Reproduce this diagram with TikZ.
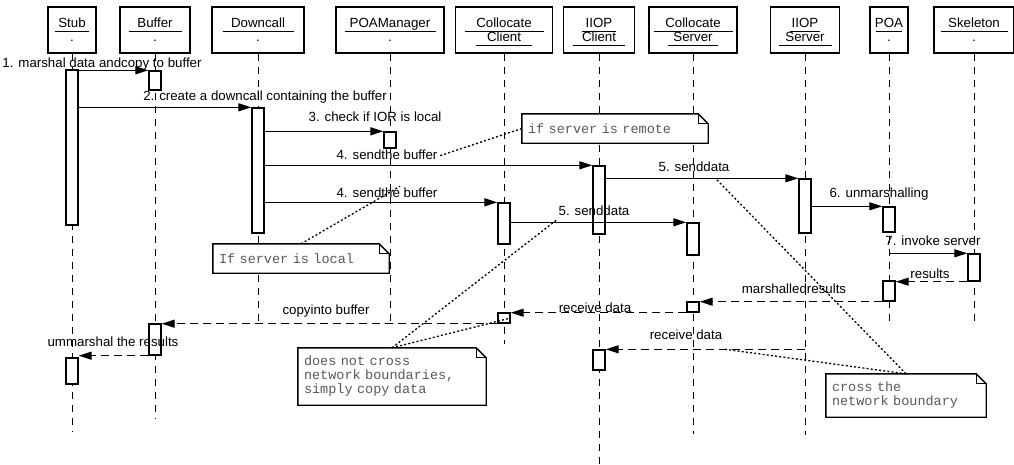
\documentclass[tikz,border=0pt]{standalone}
\usepackage{fontspec}
\setmainfont{Liberation Sans}
\newfontfamily\notefont{Liberation Mono}
\usetikzlibrary{arrows.meta,calc}

% underlined object name, rule wider than the text
\newcommand\uname[2]{\makebox[0pt]{\smash{\raisebox{-4.5pt}{\rule{#1}{1pt}}}}\makebox[0pt]{#2}}
% note outline with folded corner
\newcommand\dogear[1]{%
  \draw[line width=1.4pt] (#1.north west) -- ($(#1.north east)+(-10,0)$) -- ($(#1.north east)+(0,10)$) -- (#1.south east) -- (#1.south west) -- cycle;
  \draw[line width=0.7pt] ($(#1.north east)+(-10,0)$) |- ($(#1.north east)+(0,10)$);}

\begin{document}
\begin{tikzpicture}
  [x=1pt,y=-1pt,every node/.style={font=\fontsize{13.3}{14}\selectfont},
   obj/.style={draw,line width=1.4pt,minimum height=46pt,inner sep=0pt,align=center},
   act/.style={draw,fill=white,line width=1.4pt,minimum width=12pt,inner sep=0pt},
   life/.style={line width=1pt,dash pattern=on 7pt off 6pt},
   msg/.style={line width=1.3pt,-{Triangle[length=13pt,width=8pt]}},
   ret/.style={msg,dash pattern=on 8pt off 5pt},
   lbl/.style={inner sep=1.5pt,text height=9.5pt,text depth=2.5pt},
   note/.style={fill=white,inner xsep=6pt,inner ysep=0pt,align=left,text=black!65,
     font=\notefont\fontsize{13.5}{14}\selectfont},
   link/.style={line width=1.3pt,dash pattern=on 2pt off 2.2pt}]

  \useasboundingbox (0,0) rectangle (1014,464);

  % Objects
  \node[obj,minimum width=48pt] (stub) at (72,30) {\uname{34pt}{Stub}\\.};
  \node[obj,minimum width=70pt] (buffer) at (155,30) {\uname{53pt}{Buffer}\\.};
  \node[obj,minimum width=92pt] (downcall) at (258,30) {\uname{71pt}{Downcall}\\.};
  \node[obj,minimum width=108pt] (poamgr) at (390,30) {\uname{91pt}{POAManager}\\.};
  \node[obj,minimum width=97pt] (cclient) at (504,30) {\uname{79pt}{Collocate}\\\uname{56pt}{Client}};
  \node[obj,minimum width=71pt] (iclient) at (599,30) {\uname{34pt}{IIOP}\\\uname{52pt}{Client}};
  \node[obj,minimum width=88pt] (cserver) at (693,30) {\uname{79pt}{Collocate}\\\uname{50pt}{Server}};
  \node[obj,minimum width=69pt] (iserver) at (805,30) {\uname{30pt}{IIOP}\\\uname{53pt}{Server}};
  \node[obj,minimum width=38pt] (poa) at (889,30) {\uname{26pt}{POA}\\.};
  \node[obj,minimum width=80pt] (skeleton) at (974,30) {\uname{67pt}{Skeleton}\\.};

  % Lifelines
  \coordinate (stubEnd) at (72,432);
  \coordinate (bufferEnd) at (155,418);
  \coordinate (downcallEnd) at (258,323);
  \coordinate (poamgrEnd) at (390,323);
  \coordinate (cclientEnd) at (504,344);
  \coordinate (iclientEnd) at (599,464);
  \coordinate (cserverEnd) at (693,434);
  \coordinate (iserverEnd) at (805,435);
  \coordinate (poaEnd) at (889,322);
  \coordinate (skeletonEnd) at (974,322);
  \foreach \o in {stub,buffer,downcall,poamgr,cclient,iclient,cserver,iserver,poa,skeleton}
    \draw[life] (\o) -- (\o End);

  % Activations
  \node[act,minimum height=155pt] (stubA) at (72,147.5) {};
  \node[act,minimum height=19pt] (bufA) at (155,80.5) {};
  \node[act,minimum height=125pt] (dcA) at (258,170.5) {};
  \node[act,minimum height=16pt] (pmA) at (390,140) {};
  \node[act,minimum height=41pt] (ccA) at (504,223.5) {};
  \node[act,minimum height=68pt] (icA) at (599,200) {};
  \node[act,minimum height=32pt] (csA) at (693,239) {};
  \node[act,minimum height=54pt] (isA) at (805,206) {};
  \node[act,minimum height=25pt] (poaA) at (889,219.5) {};
  \node[act,minimum height=27pt] (skA) at (974,267.5) {};
  \node[act,minimum height=20pt] (poaB) at (889,291) {};
  \node[act,minimum height=10pt] (csB) at (693,307) {};
  \node[act,minimum height=10pt] (ccB) at (504,318) {};
  \node[act,minimum height=31pt] (bufB) at (155,339.5) {};
  \node[act,minimum height=26pt] (stubB) at (72,371) {};
  \node[act,minimum height=20pt] (icB) at (599,360) {};

  % Calls
  \draw[msg] (stubA.east |- bufA.north) -- (bufA.north west);
  \node[lbl] (l1) at (102,64) {1. marshal data andcopy to buffer};
  \draw[msg] (stubA.east |- dcA.north) -- (dcA.north west);
  \node[lbl] (l2) at (265,97) {2. create a downcall containing the buffer};
  \draw[msg] (dcA.east |- pmA.north) -- (pmA.north west);
  \node[lbl] (l3) at (375,118) {3. check if IOR is local};
  \draw[msg] (dcA.east |- icA.north) -- (icA.north west);
  \node[lbl] (l4a) at (387,156) {4. sendthe buffer};
  \draw[msg] (dcA.east |- ccA.north) -- (ccA.north west);
  \node[lbl] (l4b) at (387,194) {4. sendthe buffer};
  \draw[msg] (icA.east |- isA.north) -- coordinate[pos=0.57] (m5mid) (isA.north west);
  \node[lbl] (l5a) at (694,168) {5. senddata};
  \draw[msg] (ccA.east |- csA.north) -- (csA.north west);
  \node[lbl] (l5b) at (594,212) {5. senddata};
  \draw[msg] (isA.east |- poaA.north) -- (poaA.north west);
  \node[lbl] (l6) at (879,194) {6. unmarshalling};
  \draw[msg] (poa.south |- skA.north) -- (skA.north west);
  \node[lbl] (l7) at (933,242) {7. invoke server};

  % Returns
  \draw[ret] (skA.south west) -- (skA.south west -| poaB.east);
  \node[lbl] (l8) at (930,275) {results};
  \draw[ret] (poaB.south west) -- (poaB.south west -| csB.east);
  \node[lbl] (l9) at (794,290) {marshalledresults};
  \draw[ret] (csB.south west) -- (csB.south west -| ccB.east);
  \node[lbl] (l10) at (595,309) {receive data};
  \draw[ret] (ccB.south west) -- (ccB.south west -| bufB.east);
  \node[lbl] (l11) at (326,311) {copyinto buffer};
  \draw[ret] (bufB.south west) -- (bufB.south west -| stubB.east);
  \node[lbl] (l12) at (113,343) {ummarshal the results};
  \draw[ret] (iserver.south |- icB.north) -- coordinate[pos=0.4] (m13mid) (icB.north east);
  \node[lbl] (l13) at (686,336) {receive data};

  % Notes
  \node[note,text width=174pt,minimum height=29pt] (noteR) at (615,128.5) {if server is remote};
  \dogear{noteR}
  \node[note,text width=164pt,minimum height=29pt] (noteL) at (301,258.5) {If server is local};
  \dogear{noteL}
  \node[note,text width=176pt,minimum height=57pt] (noteC) at (392,376.5) {does not cross\\network boundaries,\\simply copy data};
  \dogear{noteC}
  \node[note,text width=148pt,minimum height=43pt] (noteX) at (906,395.5) {cross the\\network boundary};
  \dogear{noteX}

  \draw[link] (noteR.west) -- (l4a.east);
  \draw[link] (noteL.north) -- ($(l4b.north)+(13,0)$);
  \draw[link] (noteC.north) -- (l5b.south west);
  \draw[link] (noteC.north) -- (ccB.east);
  \draw[link] (noteX.north) -- (m5mid);
  \draw[link] (noteX.north) -- (m13mid);

\end{tikzpicture}
\end{document}
